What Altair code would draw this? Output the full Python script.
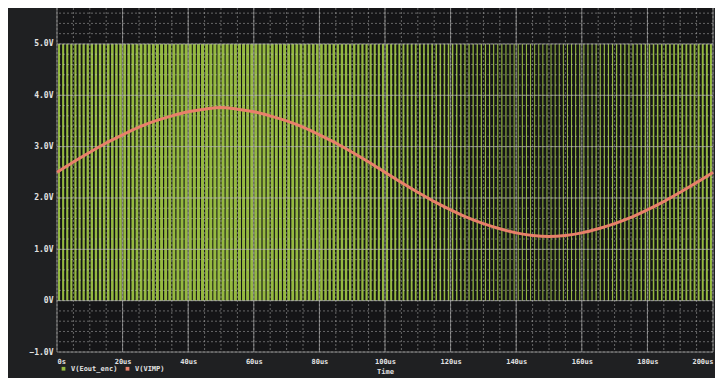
import altair as alt
import pandas as pd

# ---- data ----
series_names = ["V(Eout_enc)", "V(VIMP)"]
series_colors = ["#95b940", "#e8806a"]

# V(VIMP): sampled every 5 us
sine_t = [0, 5, 10, 15, 20, 25, 30, 35, 40, 45, 50, 55, 60, 65, 70, 75, 80, 85, 90, 95,
          100, 105, 110, 115, 120, 125, 130, 135, 140, 145, 150, 155, 160, 165, 170, 175,
          180, 185, 190, 195, 200]
sine_v = [2.50, 2.70, 2.89, 3.07, 3.23, 3.38, 3.50, 3.60, 3.68, 3.73, 3.76, 3.73, 3.68,
          3.60, 3.50, 3.38, 3.23, 3.07, 2.89, 2.70, 2.50, 2.30, 2.11, 1.93, 1.77, 1.62,
          1.50, 1.40, 1.32, 1.27, 1.25, 1.27, 1.32, 1.40, 1.50, 1.62, 1.77, 1.93, 2.11,
          2.30, 2.50]

# V(Eout_enc): PWM pulses, 0 V / 5 V, carrier period 1.25 us, duty cycle per pulse
pwm_low = 0.0
pwm_high = 5.0
pwm_period = 1.25
pwm_duty = [
    0.50, 0.51, 0.52, 0.53, 0.54, 0.55, 0.56, 0.57, 0.58, 0.59, 0.60, 0.61, 0.62, 0.63, 0.63,
    0.64, 0.65, 0.66, 0.67, 0.67, 0.68, 0.69, 0.69, 0.70, 0.71, 0.71, 0.72, 0.72, 0.72, 0.73,
    0.73, 0.74, 0.74, 0.74, 0.74, 0.75, 0.75, 0.75, 0.75, 0.75,
    0.75, 0.75, 0.75, 0.75, 0.75, 0.74, 0.74, 0.74, 0.74, 0.73, 0.73, 0.72, 0.72, 0.72, 0.71,
    0.71, 0.70, 0.69, 0.69, 0.68, 0.67, 0.67, 0.66, 0.65, 0.64, 0.63, 0.63, 0.62, 0.61, 0.60,
    0.59, 0.58, 0.57, 0.56, 0.55, 0.54, 0.53, 0.52, 0.51, 0.50,
    0.50, 0.49, 0.48, 0.47, 0.46, 0.45, 0.44, 0.43, 0.42, 0.41, 0.40, 0.39, 0.38, 0.37, 0.37,
    0.36, 0.35, 0.34, 0.33, 0.33, 0.32, 0.31, 0.31, 0.30, 0.29, 0.29, 0.28, 0.28, 0.28, 0.27,
    0.27, 0.26, 0.26, 0.26, 0.26, 0.25, 0.25, 0.25, 0.25, 0.25,
    0.25, 0.25, 0.25, 0.25, 0.25, 0.26, 0.26, 0.26, 0.26, 0.27, 0.27, 0.28, 0.28, 0.28, 0.29,
    0.29, 0.30, 0.31, 0.31, 0.32, 0.33, 0.33, 0.34, 0.35, 0.36, 0.37, 0.37, 0.38, 0.39, 0.40,
    0.41, 0.42, 0.43, 0.44, 0.45, 0.46, 0.47, 0.48, 0.49, 0.50,
]

# axis ticks / grid
x_ticks = [0, 20, 40, 60, 80, 100, 120, 140, 160, 180, 200]
y_ticks = [-1, 0, 1, 2, 3, 4, 5]
x_minor = [v * 5 for v in range(41)]
y_minor = [round(-1 + 0.2 * i, 2) for i in range(34)]

# ---- tables ----
pwm_rows = []
for k, d in enumerate(pwm_duty):
    start = k * pwm_period + (1 - d) * pwm_period / 2
    pwm_rows.append({"start": start, "end": start + d * pwm_period,
                     "lo": pwm_low, "hi": pwm_high, "series": series_names[0]})
pwm_df = pd.DataFrame(pwm_rows)
sine_df = pd.DataFrame({"t": sine_t, "v": sine_v, "series": series_names[1]})
xminor_df = pd.DataFrame({"x": x_minor})
yminor_df = pd.DataFrame({"y": y_minor})
xmajor_df = pd.DataFrame({"x": x_ticks})
ymajor_df = pd.DataFrame({"y": y_ticks})

FONT = "DejaVu Sans Mono"
TXT = "#e2e2e2"
xscale = alt.Scale(domain=[0, 200], nice=False, zero=False)
yscale = alt.Scale(domain=[-1, 5.7], nice=False, zero=False)
x_axis = alt.Axis(values=x_ticks, title="Time", grid=False, domain=False, ticks=False,
                  labelFlush=True, labelPadding=5, labelFontSize=7,
                  labelExpr="datum.value == 0 ? '0s' : datum.value + 'us'")
y_axis = alt.Axis(values=y_ticks, title=None, grid=False, domain=False, ticks=False,
                  labelPadding=4, labelFontSize=8,
                  labelExpr="datum.value == 0 ? '0V' : format(datum.value, '.1f') + 'V'")
color = alt.Color("series:N",
                  scale=alt.Scale(domain=series_names, range=series_colors),
                  legend=alt.Legend(title=None, orient="none", legendX=3, legendY=357,
                                    direction="horizontal", symbolType="square",
                                    symbolSize=14, symbolStrokeWidth=0,
                                    columnPadding=6, labelFontSize=7,
                                    labelColor=TXT, labelFont=FONT,
                                    labelFontWeight="bold"))

pwm = alt.Chart(pwm_df).mark_rect(strokeWidth=0).encode(
    x=alt.X("start:Q", scale=xscale, axis=x_axis),
    x2="end:Q",
    y=alt.Y("lo:Q", scale=yscale, axis=y_axis),
    y2="hi:Q",
    color=color,
)

grid_minor_x = alt.Chart(xminor_df).mark_rule(
    color="#c8c8c8", strokeWidth=1, strokeDash=[2, 2], opacity=0.45
).encode(x=alt.X("x:Q", scale=xscale, axis=x_axis))
grid_minor_y = alt.Chart(yminor_df).mark_rule(
    color="#c8c8c8", strokeWidth=1, strokeDash=[2, 2], opacity=0.45
).encode(y=alt.Y("y:Q", scale=yscale, axis=y_axis))
grid_major_x = alt.Chart(xmajor_df).mark_rule(
    color="#b4b4b4", strokeWidth=1, opacity=0.65
).encode(x=alt.X("x:Q", scale=xscale, axis=x_axis))
grid_major_y = alt.Chart(ymajor_df).mark_rule(
    color="#b4b4b4", strokeWidth=1, opacity=0.65
).encode(y=alt.Y("y:Q", scale=yscale, axis=y_axis))

sine = alt.Chart(sine_df).mark_line(strokeWidth=3, interpolate="monotone").encode(
    x=alt.X("t:Q", scale=xscale, axis=x_axis),
    y=alt.Y("v:Q", scale=yscale, axis=y_axis),
    color=color,
)

chart = alt.layer(
    pwm, grid_minor_x, grid_minor_y, grid_major_x, grid_major_y, sine
).properties(
    width=656, height=344,
    autosize=alt.AutoSizeParams(type="none"),
    padding={"left": 49, "top": 0, "right": 2, "bottom": 26},
    background="#1f2022",
).configure_view(
    fill="#151517", stroke=None,
).configure_axis(
    labelFont=FONT, labelFontWeight="bold", labelColor=TXT,
    titleFont=FONT, titleFontSize=7, titleFontWeight="bold", titleColor=TXT,
    titlePadding=3,
)

chart.save("out.html", embed_options={"renderer": "svg", "actions": False})
